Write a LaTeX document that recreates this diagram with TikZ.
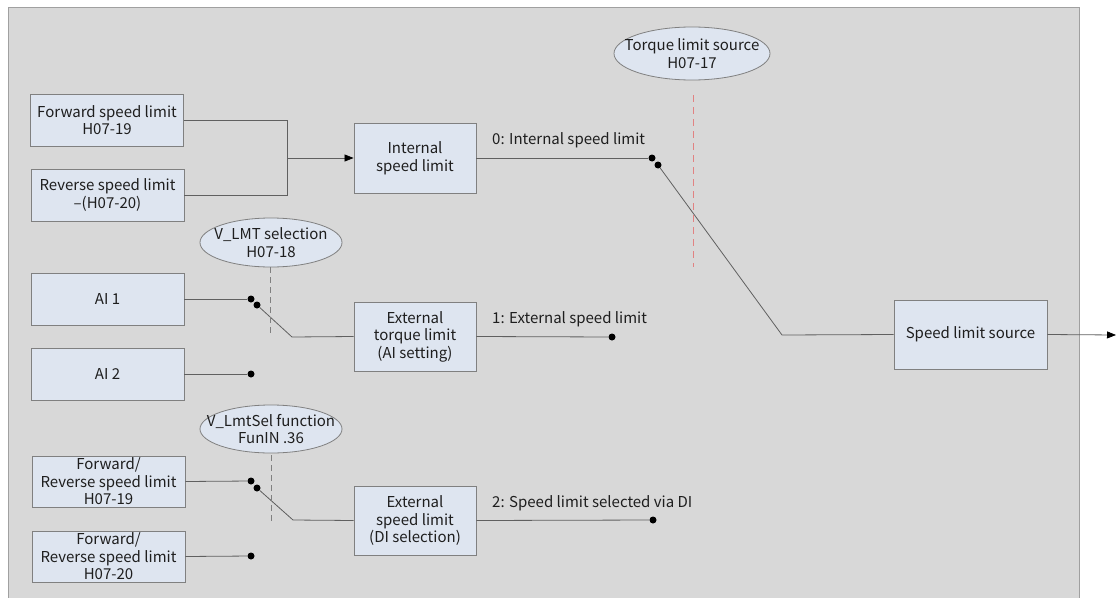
\documentclass[tikz,border=0pt]{standalone}
\usepackage{fontspec}
\setmainfont{Noto Sans CJK SC}
\usetikzlibrary{arrows.meta,shapes.geometric}
\definecolor{bg}{RGB}{216,216,216}
\definecolor{bgline}{RGB}{160,160,160}
\definecolor{boxfill}{RGB}{222,229,240}
\definecolor{boxline}{RGB}{128,128,128}
\definecolor{wire}{RGB}{96,96,96}
\definecolor{txt}{RGB}{30,30,30}
\definecolor{reddash}{RGB}{225,130,130}
\tikzset{
  blk/.style={draw=boxline, fill=boxfill, line width=0.9pt, align=center, inner sep=0pt, font=\fontsize{15}{17.5}\selectfont, text=txt},
  oval/.style={draw=boxline, fill=boxfill, line width=0.8pt, ellipse, inner sep=0pt},
  ovaltext/.style={align=center, inner sep=0pt, font=\fontsize{15}{17.5}\selectfont, text=txt},
  wireln/.style={draw=wire, line width=0.8pt},
  dot/.style={circle, fill=black, inner sep=0pt, minimum size=7pt},
  lbl/.style={anchor=west, font=\fontsize{15}{17}\selectfont, text=txt, inner sep=0pt},
  seldash/.style={draw=boxline, line width=0.8pt, dash pattern=on 6pt off 4pt},
  reddsh/.style={draw=reddash, line width=0.8pt, dash pattern=on 7pt off 5pt},
  tip/.style={-{Triangle[length=9pt,width=7pt,color=black,fill=black]}}
}
\begin{document}
\begin{tikzpicture}[x=1pt,y=-1pt]
\useasboundingbox (0,0) rectangle (1116,597);
\draw[fill=bg, draw=bgline, line width=0.8pt] (8,7) rectangle (1079,605);

% boxes
\node[blk, minimum width=153pt, minimum height=52pt] (fwd) at (107,120) {Forward speed limit\\H07-19};
\node[blk, minimum width=153pt, minimum height=52pt] (rev) at (107.5,195) {Reverse speed limit\\--(H07-20)};
\node[blk, minimum width=122pt, minimum height=70pt] (isl) at (415,158) {Internal\\speed limit};
\node[blk, minimum width=153pt, minimum height=69pt] (src) at (970.5,334.5) {Speed limit source};
\node[blk, minimum width=153pt, minimum height=52pt] (ai1) at (107.5,299) {AI 1};
\node[blk, minimum width=153pt, minimum height=52pt] (ai2) at (107.5,374) {AI 2};
\node[blk, minimum width=122pt, minimum height=69pt] (etl) at (415,336.5) {External\\torque limit\\(AI setting)};
\node[blk, minimum width=153pt, minimum height=51pt] (fr19) at (108.5,481.5) {Forward/\\Reverse speed limit\\H07-19};
\node[blk, minimum width=122pt, minimum height=69pt] (esl) at (415,520.5) {External\\speed limit\\(DI selection)};
\node[blk, minimum width=153pt, minimum height=51pt] (fr20) at (108.5,556.5) {Forward/\\Reverse speed limit\\H07-20};

% ellipses
\node[oval, minimum width=156pt, minimum height=53pt] (tls) at (692,53.5) {};
\node[ovaltext] (tlst) at (tls) {Torque limit source\\H07-17};
\node[oval, minimum width=142pt, minimum height=49pt] (vlmt) at (271,242.5) {};
\node[ovaltext] (vlmtt) at (vlmt) {V\_LMT selection\\H07-18};
\node[oval, minimum width=142pt, minimum height=48pt] (vsel) at (271,429) {};
\node[ovaltext] (vselt) at (vsel) {V\_LmtSel function\\FunIN .36};

% coordinates
\coordinate (j) at (287,158);
\coordinate (b0) at (782,335);
\coordinate (b1) at (292,337);
\coordinate (b2) at (293,520);
\coordinate (out) at (1116,335);
\coordinate (r0) at (693,95);
\coordinate (r1) at (693,267);
\coordinate (g0) at (270,267);
\coordinate (g1) at (270,335);
\coordinate (g2) at (271,455);
\coordinate (g3) at (271,522);

% dots
\node[dot] (d0a) at (652,158) {};
\node[dot] (d0b) at (658,165) {};
\node[dot] (d1) at (612,337) {};
\node[dot] (d2) at (653,520) {};
\node[dot] (a1a) at (251,299) {};
\node[dot] (a1b) at (257,305) {};
\node[dot] (a2) at (251,374) {};
\node[dot] (f1a) at (251,481) {};
\node[dot] (f1b) at (257,488) {};
\node[dot] (f2) at (251,556) {};

% wires
\draw[wireln] (fwd.east) -| (j);
\draw[wireln] (rev.east) -| (j);
\draw[wireln, tip] (j) -- (isl.west);
\draw[wireln] (isl.east) -- (d0a);
\draw[wireln] (d0b) -- (b0) -- (src.west);
\draw[wireln, tip] (src.east) -- (out);
\draw[wireln] (ai1.east) -- (a1a);
\draw[wireln] (a1b) -- (b1) -- (etl.west);
\draw[wireln] (etl.east) -- (d1);
\draw[wireln] (ai2.east) -- (a2);
\draw[wireln] (fr19.east) -- (f1a);
\draw[wireln] (f1b) -- (b2) -- (esl.west);
\draw[wireln] (esl.east) -- (d2);
\draw[wireln] (fr20.east) -- (f2);

% selector dashes
\draw[reddsh] (r0) -- (r1);
\draw[seldash] (g0) -- (g1);
\draw[seldash] (g2) -- (g3);

% labels
\node[lbl] (l0) at (492,140) {0: Internal speed limit};
\node[lbl] (l1) at (492,319) {1: External speed limit};
\node[lbl] (l2) at (492,503) {2: Speed limit selected via DI};
\end{tikzpicture}
\end{document}
